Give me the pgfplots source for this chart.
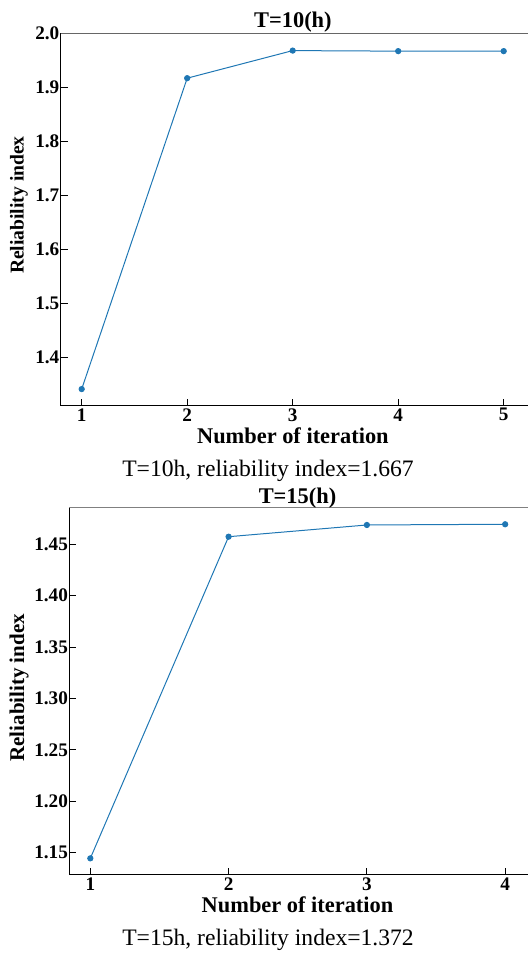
\documentclass[border=0pt]{standalone}
\usepackage{fontspec}
\setmainfont{Liberation Serif}
\usepackage{pgfplots}
\pgfplotsset{compat=1.18}
\definecolor{mpl}{HTML}{1F77B4}
\pgfplotsset{common/.style={
  scale only axis,
  axis lines=left,
  axis line style={-, line width=0.5pt, black},
  tick align=inside,
  major tick length=3.5pt,
  every tick/.style={black, line width=0.5pt},
  xtick={1,2,3,4,5},
  /pgf/number format/assume math mode=true,
  ticklabel style={font=\bfseries\fontsize{9.6}{10}\selectfont},
  yticklabel style={inner sep=0pt, xshift=-0.5pt},
  xticklabel style={inner sep=0pt, yshift=-1pt},
  label style={font=\bfseries\fontsize{11.2}{12}\selectfont},
  xlabel style={at={(axis description cs:0.494,0)}, anchor=base, yshift=-19pt},
  title style={at={(axis description cs:0.494,1)}, anchor=base, font=\bfseries\fontsize{11.2}{12}\selectfont},
  clip=false,
}}
\begin{document}
\begin{tikzpicture}
\path[use as bounding box] (0pt,0pt) rectangle (263.5pt,477pt);
\begin{axis}[common,
  at={(30.35pt,274pt)}, anchor=south west,
  width=235pt, height=186.35pt,
  xmin=0.801, xmax=5.256, ymin=1.3107, ymax=2.0,
  ytick={1.4,1.5,1.6,1.7,1.8,1.9,2.0},
  yticklabel style={/pgf/number format/.cd, fixed, fixed zerofill, precision=1},
  xlabel={Number of iteration},
  ylabel={Reliability index},
  ylabel style={at={(axis description cs:-0.0887,0.539)}, anchor=center, font=\bfseries\fontsize{9.8}{10}\selectfont},
  title={T=10(h)},
  title style={yshift=-3pt},
]
\addplot[color=mpl, line width=0.5pt, mark=*, mark size=1.3pt] coordinates {
(1,1.342) (2,1.917) (3,1.968) (4,1.967) (5,1.967)
};
\draw[gray!80!black, line width=0.5pt] (rel axis cs:0,1) -- (rel axis cs:1,1);
\end{axis}
\node[anchor=base, font=\fontsize{11.8}{12}\selectfont] at (134pt,238.6pt) {T=10h, reliability index=1.667};
\begin{axis}[common,
  at={(34.65pt,39.5pt)}, anchor=south west,
  width=231pt, height=183.85pt,
  xmin=0.848, xmax=4.189, ymin=1.1283, ymax=1.486,
  xtick={1,2,3,4},
  ytick={1.15,1.20,1.25,1.30,1.35,1.40,1.45},
  yticklabel style={/pgf/number format/.cd, fixed, fixed zerofill, precision=2},
  xlabel={Number of iteration},
  ylabel={Reliability index},
  ylabel style={at={(axis description cs:-0.1084,0.509)}, anchor=center, font=\bfseries\fontsize{10.5}{11}\selectfont},
  title={T=15(h)},
  title style={yshift=-4pt},
]
\addplot[color=mpl, line width=0.5pt, mark=*, mark size=1.3pt] coordinates {
(1,1.1445) (2,1.4574) (3,1.4688) (4,1.4695)
};
\draw[gray, line width=0.5pt] (rel axis cs:0,1) -- (rel axis cs:1,1);
\end{axis}
\node[anchor=base, font=\fontsize{11.8}{12}\selectfont] at (134pt,4.5pt) {T=15h, reliability index=1.372};
\end{tikzpicture}
\end{document}
